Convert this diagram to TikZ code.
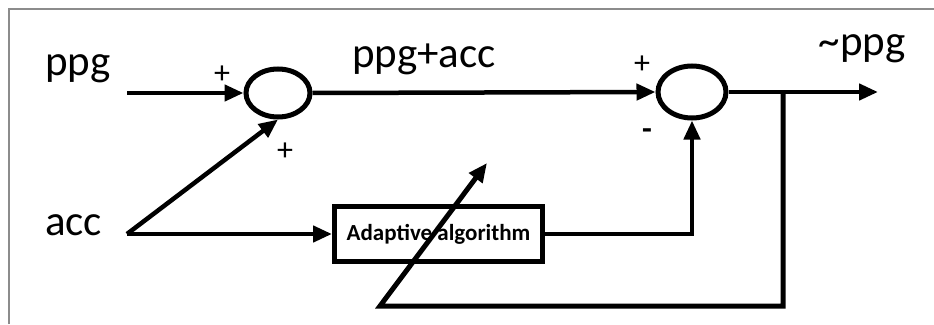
\documentclass[tikz,border=0pt]{standalone}
\usepackage{fontspec}
\setmainfont{Carlito}
\usetikzlibrary{arrows.meta}
\usetikzlibrary{shapes.geometric}

\begin{document}
\begin{tikzpicture}[x=1pt, y=-1pt,
    sig/.style={line width=4.5pt, -{Triangle[length=19pt, width=16pt]}},
    sumnode/.style={draw, ellipse, line width=5pt, minimum width=64pt, minimum height=48pt, inner sep=0pt},
    algbox/.style={draw, rectangle, line width=5pt, minimum width=208pt, minimum height=55pt, font=\fontsize{23}{26}\selectfont\bfseries},
    biglabel/.style={anchor=base, inner sep=0pt, font=\fontsize{43}{50}\selectfont},
    signlabel/.style={inner sep=0pt, font=\fontsize{32}{34}\selectfont}]

\draw[draw=none, use as bounding box] (0, 0) rectangle (934, 324);
\draw [black!45, line width=1.5pt] (9, 324) -- (9, 9) -- (934, 9);

\node [sumnode] (sum1) at (278, 93) {};
\node [sumnode, minimum width=68pt, minimum height=52pt] (sum2) at (692, 92) {};
\node [algbox] (adapt) at (438.5, 234) {Adaptive algorithm};

\node [biglabel] (ppglbl) at (78, 75) {ppg};
\node [biglabel] (acclbl) at (73.5, 235) {acc};
\node [biglabel] (mixlbl) at (424, 67) {ppg+acc};
\node [biglabel] (outlbl) at (862, 55) {\char`\~ppg};

\node [signlabel] (plusa) at (222, 75) {+};
\node [signlabel] (plusb) at (285, 152) {+};
\node [signlabel] (plusc) at (642, 65) {+};
\node [signlabel, font=\fontsize{32}{34}\selectfont\bfseries] (minus) at (647, 134) {-};

\coordinate (ppgin) at (127, 93);
\coordinate (accin) at (127, 234);
\coordinate (tap) at (783, 92);
\coordinate (outend) at (878, 92);
\coordinate (fbend) at (380, 306);
\coordinate (tune) at (487, 163);

\draw [sig] (ppgin) -- (sum1.west);
\draw [sig] (accin) -- (sum1.south);
\draw [sig] (accin) -- (adapt.west);
\draw [sig] (sum1.east) -- (sum2.west);
\draw [sig] (adapt.east) -| (sum2.south);
\draw [sig] (sum2.east) -- (outend);
\draw [sig, line width=5pt] (tap) |- (fbend) -- (tune);
\end{tikzpicture}
\end{document}
